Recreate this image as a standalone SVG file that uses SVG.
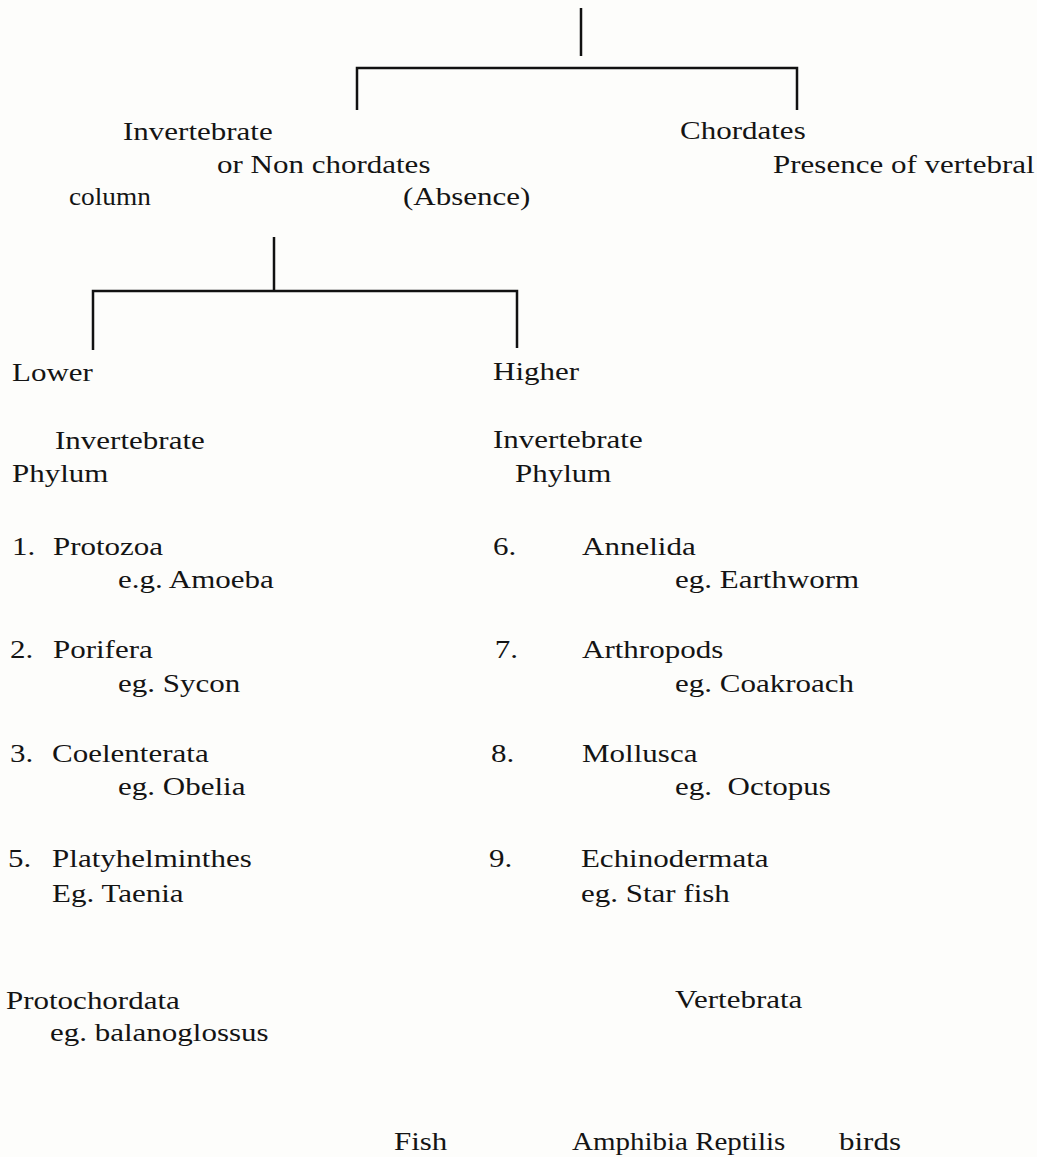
<svg xmlns="http://www.w3.org/2000/svg" width="1037" height="1157" viewBox="0 0 1037 1157">
<style>
.t{font-family:"Liberation Serif","Times New Roman",serif;font-size:25px;fill:#141414;white-space:pre}
.c{stroke:#111;stroke-width:2.5;fill:none}
</style>
<rect x="0" y="0" width="1037" height="1157" fill="#fdfdfb"/>
<g id="connectors">
<path class="c" d="M581 8V56"/>
<path class="c" d="M357 110V68H797V110"/>
<path class="c" d="M274 237V291"/>
<path class="c" d="M93 350V291H517V348"/>
</g>
<g transform="scale(1.24,1)">
<g id="invertebrate"><text class="t" x="99.2" y="140">Invertebrate</text><text class="t" x="175" y="173">or Non chordates</text><text class="t" x="325" y="205">(Absence)</text></g>
<g id="chordates"><text class="t" x="548.4" y="139">Chordates</text><text class="t" x="623.4" y="173">Presence of vertebral</text><text class="t" x="55.6" y="205" textLength="66" lengthAdjust="spacingAndGlyphs">column</text></g>
<g id="lower"><text class="t" x="9.7" y="381">Lower</text><text class="t" x="44.4" y="449">Invertebrate</text><text class="t" x="9.7" y="482">Phylum</text></g>
<g id="higher"><text class="t" x="397.6" y="380">Higher</text><text class="t" x="397.6" y="448">Invertebrate</text><text class="t" x="415.3" y="482">Phylum</text></g>
<g id="protozoa"><text class="t" x="9.7" y="555">1.</text><text class="t" x="42.7" y="555">Protozoa</text><text class="t" x="95.2" y="588">e.g. Amoeba</text></g>
<g id="porifera"><text class="t" x="8" y="658">2.</text><text class="t" x="42.7" y="658">Porifera</text><text class="t" x="95.2" y="692">eg. Sycon</text></g>
<g id="coelenterata"><text class="t" x="8" y="762">3.</text><text class="t" x="42" y="762">Coelenterata</text><text class="t" x="95.2" y="795">eg. Obelia</text></g>
<g id="platyhelminthes"><text class="t" x="6.5" y="867">5.</text><text class="t" x="42" y="867">Platyhelminthes</text><text class="t" x="42" y="902">Eg. Taenia</text></g>
<g id="annelida"><text class="t" x="397.6" y="555">6.</text><text class="t" x="469.4" y="555">Annelida</text><text class="t" x="544.4" y="588">eg. Earthworm</text></g>
<g id="arthropods"><text class="t" x="399" y="658">7.</text><text class="t" x="469.4" y="658">Arthropods</text><text class="t" x="544.4" y="692">eg. Coakroach</text></g>
<g id="mollusca"><text class="t" x="396" y="762">8.</text><text class="t" x="469.4" y="762">Mollusca</text><text class="t" x="544.4" y="795">eg.  Octopus</text></g>
<g id="echinodermata"><text class="t" x="394.4" y="867">9.</text><text class="t" x="468.5" y="867">Echinodermata</text><text class="t" x="468.5" y="902">eg. Star fish</text></g>
<g id="protochordata"><text class="t" x="4.8" y="1009">Protochordata</text><text class="t" x="40.3" y="1041">eg. balanoglossus</text></g>
<g id="vertebrata"><text class="t" x="544.4" y="1008">Vertebrata</text></g>
<g id="fish"><text class="t" x="317.7" y="1150">Fish</text></g>
<g id="amphibia-reptilis"><text class="t" x="461.3" y="1150" textLength="172" lengthAdjust="spacingAndGlyphs">Amphibia Reptilis</text></g>
<g id="birds"><text class="t" x="676.6" y="1150">birds</text></g>
</g>
</svg>
